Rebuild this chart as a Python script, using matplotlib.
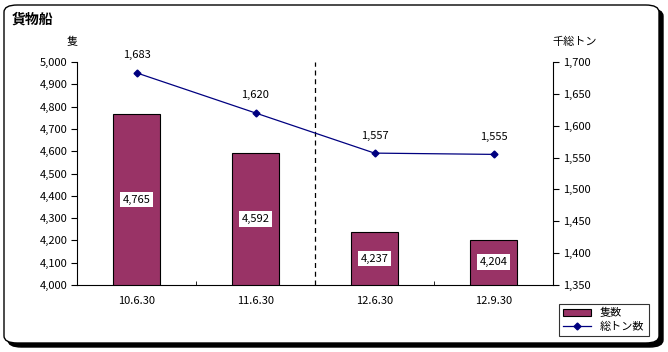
import matplotlib
matplotlib.use("Agg")
import matplotlib.pyplot as plt
from matplotlib.patches import FancyBboxPatch
from matplotlib.ticker import FuncFormatter, MultipleLocator

plt.rcParams["font.family"] = ["Noto Sans CJK JP", "DejaVu Sans"]

# data ---------------------------------------------------------------------
categories = ["10.6.30", "11.6.30", "12.6.30", "12.9.30"]
vessels = [4765, 4592, 4237, 4204]        # 隻数
tonnage = [1683, 1620, 1557, 1555]        # 総トン数 (千総トン)

BAR = "#993366"
LINE = "#000080"

fig = plt.figure(figsize=(6.68, 3.52), dpi=100)

# rounded frame with drop shadow
W, H = 668, 352
shadow = FancyBboxPatch((8 / W, 5 / H), 655 / W, 338 / H,
                        boxstyle="round,pad=0,rounding_size=0.02",
                        transform=fig.transFigure, fc="black", ec="black", zorder=0)
frame = FancyBboxPatch((4 / W, 9 / H), 655 / W, 338 / H,
                       boxstyle="round,pad=0,rounding_size=0.02",
                       transform=fig.transFigure, fc="white", ec="black", lw=1.0, zorder=0.1)
fig.patches.extend([shadow, frame])

ax = fig.add_axes([77 / W, 1 - 285 / H, 476 / W, 223 / H])
ax.set_zorder(1)
ax.patch.set_visible(False)
x = range(len(categories))

bars = ax.bar(x, vessels, width=0.4, color=BAR, edgecolor="black", lw=0.8, zorder=2)
ax.set_xlim(-0.5, len(categories) - 0.5)
ax.set_ylim(4000, 5000)
ax.yaxis.set_major_locator(MultipleLocator(100))
ax.yaxis.set_major_formatter(FuncFormatter(lambda v, p: f"{v:,.0f}"))
ax.set_xticks(list(x))
ax.set_xticklabels(categories)
ax.set_xticks([0.5, 1.5, 2.5], minor=True)
ax.tick_params(axis="x", which="major", length=0, pad=8, labelsize=8)
ax.tick_params(axis="x", which="minor", length=3, direction="in")
ax.tick_params(axis="y", length=4, direction="out", labelsize=8, pad=3)
for s in ("top", "right"):
    ax.spines[s].set_visible(False)

for b, v in zip(bars, vessels):
    ax.text(b.get_x() + b.get_width() / 2, (4000 + v) / 2, f"{v:,}",
            ha="center", va="center", fontsize=8, zorder=3,
            bbox=dict(fc="white", ec="none", pad=2))

ax.axvline(1.5, color="black", ls=(0, (4, 3)), lw=0.9, zorder=1)

ax2 = ax.twinx()
ax2.set_ylim(1350, 1700)
ax2.yaxis.set_major_locator(MultipleLocator(50))
ax2.yaxis.set_major_formatter(FuncFormatter(lambda v, p: f"{v:,.0f}"))
ax2.tick_params(axis="y", length=4, direction="out", labelsize=8, pad=3)
for s in ("top", "left", "bottom"):
    ax2.spines[s].set_visible(False)
ax2.plot(x, tonnage, color=LINE, lw=0.9, marker="D", ms=3.5, zorder=4)
for xi, t in zip(x, tonnage):
    ax2.annotate(f"{t:,}", (xi, t), xytext=(0, 9), textcoords="offset points",
                 ha="center", va="bottom", fontsize=8)

fig.text(12 / W, 1 - 20 / H, "貨物船", fontsize=10, fontweight="bold", va="center")
fig.text(72 / W, 1 - 42 / H, "隻", fontsize=8, ha="center", va="center")
fig.text(575 / W, 1 - 42 / H, "千総トン", fontsize=8, ha="center", va="center")

h1 = bars
h2, = ax2.plot([], [], color=LINE, lw=0.9, marker="D", ms=3.5)
leg = fig.legend([h1, h2], ["隻数", "総トン数"], loc="lower left",
                 bbox_to_anchor=(553 / W, 1 - 342 / H), fontsize=8,
                 frameon=True, fancybox=False, edgecolor="black",
                 handlelength=2.5, borderpad=0.4, labelspacing=0.3)
leg.get_frame().set_linewidth(0.8)

fig.savefig("out.png", dpi=100)
